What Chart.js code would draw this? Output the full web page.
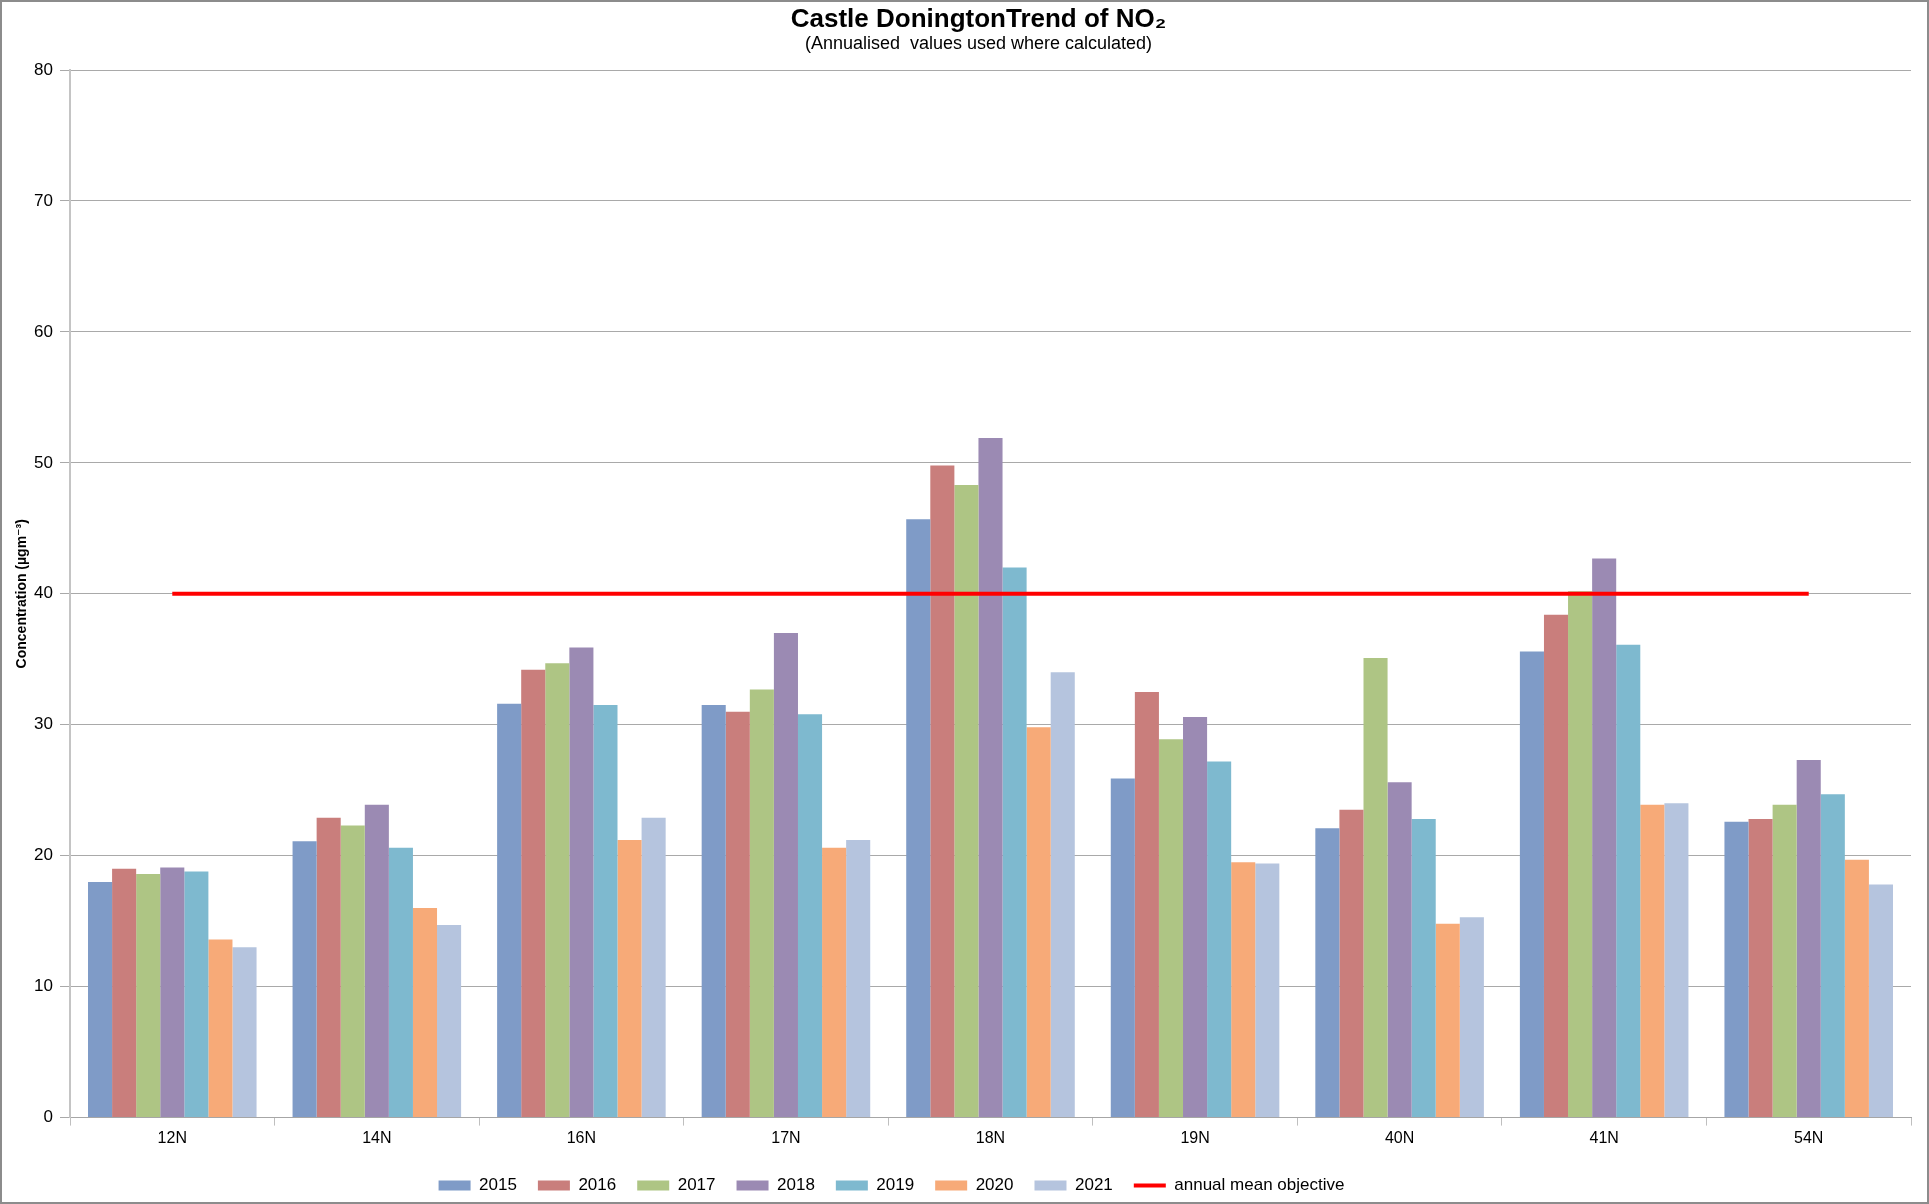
<!DOCTYPE html>
<html>
<head>
<meta charset="utf-8">
<title>Castle Donington NO2 trend</title>
<script src="https://cdn.jsdelivr.net/npm/chart.js@4.4.1/dist/chart.umd.min.js"></script>
<style>
  html, body { margin: 0; padding: 0; background: #ffffff; }
  canvas { display: block; }
</style>
</head>
<body>
<canvas id="chart" width="1929" height="1204"></canvas>
<script>
// Monitoring sites (diffusion tube locations)
const categories = ['12N', '14N', '16N', '17N', '18N', '19N', '40N', '41N', '54N'];

// Annual mean NO2 concentrations (µg/m³) per site, one array per year
const years = ['2015', '2016', '2017', '2018', '2019', '2020', '2021'];
const v2015 = [18.0, 21.1, 31.6, 31.5, 45.7, 25.9, 22.1, 35.6, 22.6];
const v2016 = [19.0, 22.9, 34.2, 31.0, 49.8, 32.5, 23.5, 38.4, 22.8];
const v2017 = [18.6, 22.3, 34.7, 32.7, 48.3, 28.9, 35.1, 40.2, 23.9];
const v2018 = [19.1, 23.9, 35.9, 37.0, 51.9, 30.6, 25.6, 42.7, 27.3];
const v2019 = [18.8, 20.6, 31.5, 30.8, 42.0, 27.2, 22.8, 36.1, 24.7];
const v2020 = [13.6, 16.0, 21.2, 20.6, 29.8, 19.5, 14.8, 23.9, 19.7];
const v2021 = [13.0, 14.7, 22.9, 21.2, 34.0, 19.4, 15.3, 24.0, 17.8];

// Air quality annual mean objective for NO2
const objectiveValue = 40;
const objectiveLabel = 'annual mean objective';

// Y axis range and tick spacing
const yMin = 0;
const yMax = 80;
const yStep = 10;

const seriesValues = [v2015, v2016, v2017, v2018, v2019, v2020, v2021];
const seriesColors = ['#7F9BC7', '#C97E7C', '#AEC584', '#9B8AB3', '#7EB9CF', '#F7AA78', '#B5C4DE'];

const FONT = "'Liberation Sans', Arial, 'DejaVu Sans', sans-serif";
const LEGEND_SHIFT = -64;
const TITLE_SHIFT = 23;

const datasets = years.map((year, i) => ({
  type: 'bar',
  label: year,
  data: seriesValues[i],
  backgroundColor: seriesColors[i],
  borderWidth: 0,
  categoryPercentage: 0.824,
  barPercentage: 1.0,
  order: 1
}));

datasets.push({
  type: 'line',
  label: objectiveLabel,
  data: categories.map(() => objectiveValue),
  borderColor: '#FF0000',
  backgroundColor: '#FF0000',
  borderWidth: 4,
  pointRadius: 0,
  pointHoverRadius: 0,
  fill: false,
  order: 0
});

// White background and outer frame
const framePlugin = {
  id: 'frame',
  beforeDraw(chart) {
    const ctx = chart.ctx;
    ctx.save();
    ctx.fillStyle = '#ffffff';
    ctx.fillRect(0, 0, chart.width, chart.height);
    ctx.restore();
  },
  afterDraw(chart) {
    const ctx = chart.ctx;
    ctx.save();
    ctx.strokeStyle = '#8C8C8C';
    ctx.lineWidth = 2;
    ctx.strokeRect(1, 1, chart.width - 2, chart.height - 2);
    ctx.restore();
  }
};

// Nudge the heading blocks and the legend row sideways after layout
const blockOffsetPlugin = {
  id: 'blockOffset',
  afterLayout(chart) {
    if (chart.legend) {
      chart.legend.left += LEGEND_SHIFT;
      chart.legend.right += LEGEND_SHIFT;
    }
    chart.boxes.forEach(box => {
      if (box.position === 'top' && box.options && typeof box.options.text === 'string') {
        box.left += TITLE_SHIFT;
        box.right += TITLE_SHIFT;
      }
    });
  }
};

new Chart(document.getElementById('chart'), {
  data: { labels: categories, datasets: datasets },
  plugins: [framePlugin, blockOffsetPlugin],
  options: {
    responsive: false,
    devicePixelRatio: 1,
    animation: false,
    layout: { padding: { left: 0, right: 18, top: 0, bottom: 0 } },
    plugins: {
      title: {
        display: true,
        text: 'Castle DoningtonTrend of NO\u2082',
        color: '#000000',
        font: { family: FONT, size: 26, weight: 'bold', lineHeight: 1.0 },
        padding: { top: 6.5, bottom: 0 }
      },
      subtitle: {
        display: true,
        text: '(Annualised  values used where calculated)',
        color: '#000000',
        font: { family: FONT, size: 18, weight: 'normal', lineHeight: 1.0 },
        padding: { top: 2.5, bottom: 17 }
      },
      legend: {
        display: true,
        position: 'bottom',
        title: { display: true, text: '', font: { size: 1 }, padding: { top: 4, bottom: 0 } },
        labels: {
          usePointStyle: true,
          pointStyleWidth: 32,
          boxHeight: 10,
          padding: 21,
          color: '#000000',
          font: { family: FONT, size: 17 },
          generateLabels(chart) {
            const items = Chart.defaults.plugins.legend.labels.generateLabels(chart);
            items.sort((a, b) => a.datasetIndex - b.datasetIndex);
            items.forEach(item => {
              const ds = chart.data.datasets[item.datasetIndex];
              if (ds.type === 'line') {
                item.pointStyle = 'line';
                item.strokeStyle = ds.borderColor;
                item.lineWidth = 4;
              } else {
                item.pointStyle = 'rect';
                item.lineWidth = 0;
              }
            });
            return items;
          }
        }
      },
      tooltip: { enabled: false }
    },
    scales: {
      x: {
        type: 'category',
        offset: true,
        grid: {
          offset: true,
          drawOnChartArea: false,
          drawTicks: true,
          tickLength: 8,
          color: '#BFBFBF',
          lineWidth: 1
        },
        border: { display: true, color: '#A6A6A6', width: 1 },
        ticks: {
          color: '#000000',
          padding: 3,
          font: { family: FONT, size: 16 },
          maxRotation: 0
        }
      },
      y: {
        type: 'linear',
        min: yMin,
        max: yMax,
        afterFit(scale) { scale.width = 70; },
        ticks: {
          stepSize: yStep,
          color: '#000000',
          padding: 7,
          font: { family: FONT, size: 17 }
        },
        grid: {
          color: '#A9A9A9',
          lineWidth: 1,
          drawTicks: true,
          tickLength: 10
        },
        border: { display: true, color: '#C4C4C4', width: 2 },
        title: {
          display: true,
          text: 'Concentration (\u00B5gm\u207B\u00B3)',
          color: '#000000',
          font: { family: FONT, size: 14, weight: 'bold' },
          padding: { top: 14, bottom: 0 }
        }
      }
    }
  }
});
</script>
</body>
</html>
